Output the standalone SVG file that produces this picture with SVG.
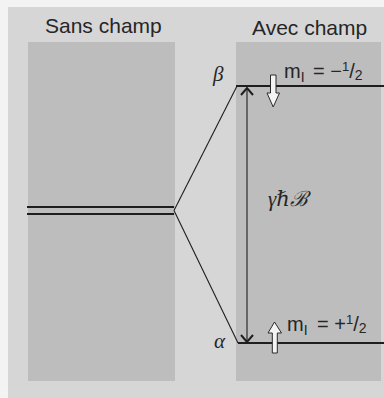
<svg xmlns="http://www.w3.org/2000/svg" width="384" height="398" viewBox="0 0 384 398">
<style>
.title{font-family:"Liberation Sans",Arial,sans-serif;font-size:21px;fill:#262626}
.ml{font-family:"Liberation Sans",Arial,sans-serif;font-size:20px;fill:#262626}
.greek{font-family:"Liberation Serif","DejaVu Serif",serif;font-style:italic;font-size:21px;fill:#262626}
.lvl{stroke:#1e1e1e;stroke-width:2;fill:none}
.thin{stroke:#1e1e1e;stroke-width:1.1;fill:none}
.open{fill:#f4f4f4;stroke:#2a2a2a;stroke-width:1}
</style>
<rect x="0" y="0" width="384" height="398" fill="#f3f3f3"/>
<rect x="8" y="7" width="376" height="391" fill="#d6d6d6"/>
<rect x="28" y="42" width="147" height="339" fill="#bdbdbd"/>
<rect x="236" y="42" width="145" height="339" fill="#bdbdbd"/>
<text class="title" x="45" y="33">Sans champ</text>
<text class="title" x="252" y="35">Avec champ</text>
<g id="level-sans">
<line class="lvl" x1="27" y1="207" x2="174" y2="207"/>
<line class="lvl" x1="27" y1="214" x2="174" y2="214"/>
</g>
<g id="level-beta">
<line class="lvl" x1="236" y1="86" x2="384" y2="86"/>
<text class="greek" x="213" y="81">β</text>
<polygon class="open" points="270.5,75 276,75 276,93 279.5,93 273.2,107 267,93 270.5,93"/>
<text class="ml" x="284" y="78">m<tspan font-size="14" dy="4">I</tspan><tspan dy="-4" x="313">= −</tspan><tspan font-size="13" dy="-7">1</tspan><tspan dy="7">/</tspan><tspan font-size="14" dy="2">2</tspan></text>
</g>
<g id="level-alpha">
<line class="lvl" x1="238" y1="343" x2="384" y2="343"/>
<text class="greek" x="214" y="348">α</text>
<polygon class="open" points="274.5,322 281.5,333 277.3,333 277.3,353 272.3,353 272.3,333 268,333"/>
<text class="ml" x="287" y="331">m<tspan font-size="14" dy="4">I</tspan><tspan dy="-4" x="317">= +</tspan><tspan font-size="13" dy="-7">1</tspan><tspan dy="7">/</tspan><tspan font-size="14" dy="2">2</tspan></text>
</g>
<g id="connectors">
<line class="thin" x1="174" y1="210.5" x2="237" y2="86"/>
<line class="thin" x1="174" y1="210.5" x2="238" y2="343"/>
<line class="thin" x1="247" y1="88" x2="247" y2="342"/>
<polyline class="lvl" points="241,95 247,88 253,95"/>
<polyline class="lvl" points="241,335 247,342 253,335"/>
</g>
<text class="greek" x="268" y="206">γℏℬ</text>
</svg>
